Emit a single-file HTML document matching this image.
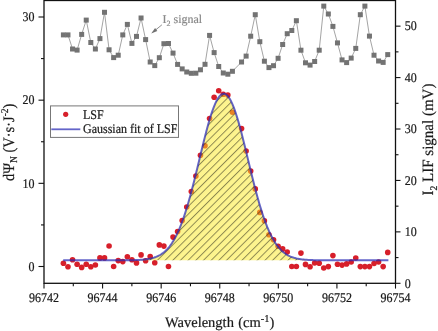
<!DOCTYPE html>
<html><head><meta charset="utf-8"><style>html,body{margin:0;padding:0;background:#fff;}svg{display:block;}text{text-rendering:geometricPrecision;}svg{will-change:transform;}</style></head>
<body>
<svg width="438" height="331" viewBox="0 0 438 331">
<defs><pattern id="hatch" patternUnits="userSpaceOnUse" width="5.43" height="5.43" patternTransform="rotate(45) translate(1.69,0)"><line x1="0.5" y1="-1" x2="0.5" y2="7" stroke="rgba(30,30,20,0.52)" stroke-width="0.95"/></pattern>
<clipPath id="pc"><rect x="44.0" y="0.5" width="351.5" height="282.8"/></clipPath></defs>
<rect width="438" height="331" fill="#fff"/>
<polyline fill="none" stroke="#939393" stroke-width="0.85" points="63.40,34.90 67.97,34.90 72.54,49.00 77.10,50.10 81.67,34.40 86.24,20.10 90.81,42.50 95.38,49.00 99.94,38.60 104.51,12.30 109.08,49.80 113.65,57.60 118.22,55.20 122.78,34.90 127.35,24.40 131.92,43.40 136.49,36.40 141.06,18.00 145.62,39.60 150.19,62.00 154.76,65.60 159.33,57.70 163.90,43.70 168.46,43.50 173.03,53.10 177.60,64.40 182.17,68.90 186.74,72.00 191.30,73.30 195.87,73.20 200.44,69.80 205.01,64.30 209.58,35.40 214.14,52.60 218.71,66.50 223.28,73.00 227.85,74.20 232.42,71.30 241.55,62.00 246.12,56.10 250.69,36.20 255.26,14.70 259.82,41.70 264.39,61.20 268.96,67.60 273.53,65.70 278.10,58.30 282.66,44.50 287.23,33.70 291.80,30.50 296.37,20.70 300.94,50.20 305.50,62.80 310.07,65.10 314.64,61.50 319.21,50.20 323.78,6.10 328.34,14.00 332.91,26.40 337.48,42.90 342.05,59.90 346.62,62.60 351.18,58.10 355.75,48.40 360.32,14.70 364.89,6.10 369.46,36.10 374.02,55.20 378.59,61.00 383.16,62.40 387.73,54.60"/>
<rect x="60.90" y="32.40" width="5" height="5" fill="#737373"/>
<rect x="65.47" y="32.40" width="5" height="5" fill="#737373"/>
<rect x="70.04" y="46.50" width="5" height="5" fill="#737373"/>
<rect x="74.60" y="47.60" width="5" height="5" fill="#737373"/>
<rect x="79.17" y="31.90" width="5" height="5" fill="#737373"/>
<rect x="83.74" y="17.60" width="5" height="5" fill="#737373"/>
<rect x="88.31" y="40.00" width="5" height="5" fill="#737373"/>
<rect x="92.88" y="46.50" width="5" height="5" fill="#737373"/>
<rect x="97.44" y="36.10" width="5" height="5" fill="#737373"/>
<rect x="102.01" y="9.80" width="5" height="5" fill="#737373"/>
<rect x="106.58" y="47.30" width="5" height="5" fill="#737373"/>
<rect x="111.15" y="55.10" width="5" height="5" fill="#737373"/>
<rect x="115.72" y="52.70" width="5" height="5" fill="#737373"/>
<rect x="120.28" y="32.40" width="5" height="5" fill="#737373"/>
<rect x="124.85" y="21.90" width="5" height="5" fill="#737373"/>
<rect x="129.42" y="40.90" width="5" height="5" fill="#737373"/>
<rect x="133.99" y="33.90" width="5" height="5" fill="#737373"/>
<rect x="138.56" y="15.50" width="5" height="5" fill="#737373"/>
<rect x="143.12" y="37.10" width="5" height="5" fill="#737373"/>
<rect x="147.69" y="59.50" width="5" height="5" fill="#737373"/>
<rect x="152.26" y="63.10" width="5" height="5" fill="#737373"/>
<rect x="156.83" y="55.20" width="5" height="5" fill="#737373"/>
<rect x="161.40" y="41.20" width="5" height="5" fill="#737373"/>
<rect x="165.96" y="41.00" width="5" height="5" fill="#737373"/>
<rect x="170.53" y="50.60" width="5" height="5" fill="#737373"/>
<rect x="175.10" y="61.90" width="5" height="5" fill="#737373"/>
<rect x="179.67" y="66.40" width="5" height="5" fill="#737373"/>
<rect x="184.24" y="69.50" width="5" height="5" fill="#737373"/>
<rect x="188.80" y="70.80" width="5" height="5" fill="#737373"/>
<rect x="193.37" y="70.70" width="5" height="5" fill="#737373"/>
<rect x="197.94" y="67.30" width="5" height="5" fill="#737373"/>
<rect x="202.51" y="61.80" width="5" height="5" fill="#737373"/>
<rect x="207.08" y="32.90" width="5" height="5" fill="#737373"/>
<rect x="211.64" y="50.10" width="5" height="5" fill="#737373"/>
<rect x="216.21" y="64.00" width="5" height="5" fill="#737373"/>
<rect x="220.78" y="70.50" width="5" height="5" fill="#737373"/>
<rect x="225.35" y="71.70" width="5" height="5" fill="#737373"/>
<rect x="229.92" y="68.80" width="5" height="5" fill="#737373"/>
<rect x="239.05" y="59.50" width="5" height="5" fill="#737373"/>
<rect x="243.62" y="53.60" width="5" height="5" fill="#737373"/>
<rect x="248.19" y="33.70" width="5" height="5" fill="#737373"/>
<rect x="252.76" y="12.20" width="5" height="5" fill="#737373"/>
<rect x="257.32" y="39.20" width="5" height="5" fill="#737373"/>
<rect x="261.89" y="58.70" width="5" height="5" fill="#737373"/>
<rect x="266.46" y="65.10" width="5" height="5" fill="#737373"/>
<rect x="271.03" y="63.20" width="5" height="5" fill="#737373"/>
<rect x="275.60" y="55.80" width="5" height="5" fill="#737373"/>
<rect x="280.16" y="42.00" width="5" height="5" fill="#737373"/>
<rect x="284.73" y="31.20" width="5" height="5" fill="#737373"/>
<rect x="289.30" y="28.00" width="5" height="5" fill="#737373"/>
<rect x="293.87" y="18.20" width="5" height="5" fill="#737373"/>
<rect x="298.44" y="47.70" width="5" height="5" fill="#737373"/>
<rect x="303.00" y="60.30" width="5" height="5" fill="#737373"/>
<rect x="307.57" y="62.60" width="5" height="5" fill="#737373"/>
<rect x="312.14" y="59.00" width="5" height="5" fill="#737373"/>
<rect x="316.71" y="47.70" width="5" height="5" fill="#737373"/>
<rect x="321.28" y="3.60" width="5" height="5" fill="#737373"/>
<rect x="325.84" y="11.50" width="5" height="5" fill="#737373"/>
<rect x="330.41" y="23.90" width="5" height="5" fill="#737373"/>
<rect x="334.98" y="40.40" width="5" height="5" fill="#737373"/>
<rect x="339.55" y="57.40" width="5" height="5" fill="#737373"/>
<rect x="344.12" y="60.10" width="5" height="5" fill="#737373"/>
<rect x="348.68" y="55.60" width="5" height="5" fill="#737373"/>
<rect x="353.25" y="45.90" width="5" height="5" fill="#737373"/>
<rect x="357.82" y="12.20" width="5" height="5" fill="#737373"/>
<rect x="362.39" y="3.60" width="5" height="5" fill="#737373"/>
<rect x="366.96" y="33.60" width="5" height="5" fill="#737373"/>
<rect x="371.52" y="52.70" width="5" height="5" fill="#737373"/>
<rect x="376.09" y="58.50" width="5" height="5" fill="#737373"/>
<rect x="380.66" y="59.90" width="5" height="5" fill="#737373"/>
<rect x="385.23" y="52.10" width="5" height="5" fill="#737373"/>
<circle cx="63.40" cy="263.20" r="2.8" fill="#d71f2a"/>
<circle cx="67.97" cy="266.70" r="2.8" fill="#d71f2a"/>
<circle cx="72.54" cy="259.70" r="2.8" fill="#d71f2a"/>
<circle cx="77.10" cy="264.30" r="2.8" fill="#d71f2a"/>
<circle cx="81.67" cy="267.40" r="2.8" fill="#d71f2a"/>
<circle cx="86.24" cy="264.30" r="2.8" fill="#d71f2a"/>
<circle cx="90.81" cy="266.70" r="2.8" fill="#d71f2a"/>
<circle cx="95.38" cy="265.00" r="2.8" fill="#d71f2a"/>
<circle cx="99.94" cy="257.90" r="2.8" fill="#d71f2a"/>
<circle cx="104.51" cy="257.90" r="2.8" fill="#d71f2a"/>
<circle cx="109.08" cy="246.00" r="2.8" fill="#d71f2a"/>
<circle cx="113.65" cy="266.50" r="2.8" fill="#d71f2a"/>
<circle cx="118.22" cy="260.60" r="2.8" fill="#d71f2a"/>
<circle cx="122.78" cy="261.60" r="2.8" fill="#d71f2a"/>
<circle cx="127.35" cy="256.80" r="2.8" fill="#d71f2a"/>
<circle cx="131.92" cy="259.80" r="2.8" fill="#d71f2a"/>
<circle cx="136.49" cy="262.90" r="2.8" fill="#d71f2a"/>
<circle cx="141.06" cy="254.90" r="2.8" fill="#d71f2a"/>
<circle cx="145.62" cy="260.70" r="2.8" fill="#d71f2a"/>
<circle cx="150.19" cy="256.60" r="2.8" fill="#d71f2a"/>
<circle cx="154.76" cy="262.70" r="2.8" fill="#d71f2a"/>
<circle cx="159.33" cy="244.90" r="2.8" fill="#d71f2a"/>
<circle cx="163.90" cy="246.10" r="2.8" fill="#d71f2a"/>
<circle cx="168.46" cy="266.50" r="2.8" fill="#d71f2a"/>
<circle cx="173.03" cy="237.10" r="2.8" fill="#d71f2a"/>
<circle cx="177.60" cy="231.60" r="2.8" fill="#d71f2a"/>
<circle cx="182.17" cy="220.60" r="2.8" fill="#d71f2a"/>
<circle cx="186.74" cy="207.00" r="2.8" fill="#d71f2a"/>
<circle cx="191.30" cy="191.50" r="2.8" fill="#d71f2a"/>
<circle cx="195.87" cy="176.10" r="2.8" fill="#d71f2a"/>
<circle cx="200.44" cy="155.30" r="2.8" fill="#d71f2a"/>
<circle cx="205.01" cy="145.70" r="2.8" fill="#d71f2a"/>
<circle cx="209.58" cy="118.50" r="2.8" fill="#d71f2a"/>
<circle cx="214.14" cy="97.30" r="2.8" fill="#d71f2a"/>
<circle cx="218.71" cy="90.70" r="2.8" fill="#d71f2a"/>
<circle cx="223.28" cy="94.30" r="2.8" fill="#d71f2a"/>
<circle cx="227.85" cy="95.10" r="2.8" fill="#d71f2a"/>
<circle cx="232.42" cy="112.20" r="2.8" fill="#d71f2a"/>
<circle cx="241.55" cy="128.60" r="2.8" fill="#d71f2a"/>
<circle cx="246.12" cy="151.00" r="2.8" fill="#d71f2a"/>
<circle cx="250.69" cy="171.10" r="2.8" fill="#d71f2a"/>
<circle cx="255.26" cy="188.90" r="2.8" fill="#d71f2a"/>
<circle cx="259.82" cy="212.40" r="2.8" fill="#d71f2a"/>
<circle cx="264.39" cy="220.80" r="2.8" fill="#d71f2a"/>
<circle cx="268.96" cy="234.70" r="2.8" fill="#d71f2a"/>
<circle cx="273.53" cy="239.80" r="2.8" fill="#d71f2a"/>
<circle cx="278.10" cy="246.30" r="2.8" fill="#d71f2a"/>
<circle cx="282.66" cy="248.90" r="2.8" fill="#d71f2a"/>
<circle cx="287.23" cy="252.00" r="2.8" fill="#d71f2a"/>
<circle cx="291.80" cy="266.50" r="2.8" fill="#d71f2a"/>
<circle cx="296.37" cy="266.50" r="2.8" fill="#d71f2a"/>
<circle cx="300.94" cy="253.10" r="2.8" fill="#d71f2a"/>
<circle cx="305.50" cy="264.40" r="2.8" fill="#d71f2a"/>
<circle cx="310.07" cy="266.70" r="2.8" fill="#d71f2a"/>
<circle cx="314.64" cy="263.00" r="2.8" fill="#d71f2a"/>
<circle cx="319.21" cy="263.20" r="2.8" fill="#d71f2a"/>
<circle cx="323.78" cy="268.00" r="2.8" fill="#d71f2a"/>
<circle cx="328.34" cy="266.60" r="2.8" fill="#d71f2a"/>
<circle cx="332.91" cy="255.60" r="2.8" fill="#d71f2a"/>
<circle cx="337.48" cy="264.20" r="2.8" fill="#d71f2a"/>
<circle cx="342.05" cy="265.10" r="2.8" fill="#d71f2a"/>
<circle cx="346.62" cy="263.90" r="2.8" fill="#d71f2a"/>
<circle cx="351.18" cy="262.00" r="2.8" fill="#d71f2a"/>
<circle cx="355.75" cy="258.00" r="2.8" fill="#d71f2a"/>
<circle cx="360.32" cy="266.60" r="2.8" fill="#d71f2a"/>
<circle cx="364.89" cy="266.60" r="2.8" fill="#d71f2a"/>
<circle cx="369.46" cy="266.60" r="2.8" fill="#d71f2a"/>
<circle cx="374.02" cy="263.50" r="2.8" fill="#d71f2a"/>
<circle cx="378.59" cy="262.00" r="2.8" fill="#d71f2a"/>
<circle cx="383.16" cy="266.60" r="2.8" fill="#d71f2a"/>
<circle cx="387.73" cy="252.40" r="2.8" fill="#d71f2a"/>
<path d="M63.20,260.31 L63.20,260.31 L64.01,260.31 L64.83,260.31 L65.64,260.31 L66.45,260.31 L67.27,260.31 L68.08,260.31 L68.89,260.31 L69.70,260.31 L70.52,260.31 L71.33,260.31 L72.14,260.31 L72.96,260.31 L73.77,260.31 L74.58,260.31 L75.40,260.31 L76.21,260.31 L77.02,260.31 L77.83,260.31 L78.65,260.31 L79.46,260.31 L80.27,260.31 L81.09,260.31 L81.90,260.31 L82.71,260.31 L83.53,260.31 L84.34,260.31 L85.15,260.31 L85.96,260.31 L86.78,260.31 L87.59,260.31 L88.40,260.31 L89.22,260.31 L90.03,260.31 L90.84,260.31 L91.66,260.31 L92.47,260.31 L93.28,260.31 L94.09,260.31 L94.91,260.31 L95.72,260.31 L96.53,260.31 L97.35,260.31 L98.16,260.31 L98.97,260.31 L99.78,260.31 L100.60,260.31 L101.41,260.31 L102.22,260.31 L103.04,260.31 L103.85,260.31 L104.66,260.31 L105.48,260.31 L106.29,260.31 L107.10,260.31 L107.92,260.31 L108.73,260.31 L109.54,260.31 L110.35,260.31 L111.17,260.31 L111.98,260.31 L112.79,260.31 L113.61,260.30 L114.42,260.30 L115.23,260.30 L116.05,260.30 L116.86,260.30 L117.67,260.30 L118.48,260.30 L119.30,260.29 L120.11,260.29 L120.92,260.29 L121.74,260.29 L122.55,260.28 L123.36,260.28 L124.18,260.27 L124.99,260.27 L125.80,260.26 L126.61,260.25 L127.43,260.25 L128.24,260.24 L129.05,260.23 L129.87,260.21 L130.68,260.20 L131.49,260.19 L132.31,260.17 L133.12,260.15 L133.93,260.13 L134.74,260.11 L135.56,260.08 L136.37,260.05 L137.18,260.02 L138.00,259.98 L138.81,259.94 L139.62,259.90 L140.44,259.84 L141.25,259.79 L142.06,259.73 L142.87,259.66 L143.69,259.58 L144.50,259.50 L145.31,259.40 L146.13,259.30 L146.94,259.19 L147.75,259.06 L148.56,258.92 L149.38,258.77 L150.19,258.61 L151.00,258.43 L151.82,258.23 L152.63,258.01 L153.44,257.78 L154.26,257.52 L155.07,257.24 L155.88,256.94 L156.69,256.61 L157.51,256.26 L158.32,255.87 L159.13,255.46 L159.95,255.01 L160.76,254.53 L161.57,254.00 L162.39,253.44 L163.20,252.84 L164.01,252.20 L164.82,251.51 L165.64,250.77 L166.45,249.98 L167.26,249.14 L168.08,248.24 L168.89,247.28 L169.70,246.27 L170.52,245.19 L171.33,244.05 L172.14,242.84 L172.95,241.56 L173.77,240.22 L174.58,238.80 L175.39,237.30 L176.21,235.73 L177.02,234.08 L177.83,232.35 L178.65,230.54 L179.46,228.65 L180.27,226.68 L181.09,224.62 L181.90,222.48 L182.71,220.26 L183.52,217.96 L184.34,215.57 L185.15,213.10 L185.96,210.55 L186.78,207.92 L187.59,205.21 L188.40,202.43 L189.22,199.58 L190.03,196.66 L190.84,193.67 L191.65,190.62 L192.47,187.51 L193.28,184.35 L194.09,181.14 L194.91,177.89 L195.72,174.60 L196.53,171.27 L197.35,167.93 L198.16,164.56 L198.97,161.18 L199.78,157.80 L200.60,154.42 L201.41,151.06 L202.22,147.71 L203.04,144.39 L203.85,141.11 L204.66,137.87 L205.48,134.68 L206.29,131.55 L207.10,128.50 L207.91,125.52 L208.73,122.63 L209.54,119.84 L210.35,117.15 L211.17,114.57 L211.98,112.11 L212.79,109.78 L213.61,107.59 L214.42,105.53 L215.23,103.63 L216.04,101.88 L216.86,100.28 L217.67,98.86 L218.48,97.60 L219.30,96.52 L220.11,95.61 L220.92,94.89 L221.74,94.34 L222.55,93.99 L223.36,93.82 L224.17,93.83 L224.99,94.03 L225.80,94.42 L226.61,94.99 L227.43,95.75 L228.24,96.68 L229.05,97.80 L229.87,99.08 L230.68,100.54 L231.49,102.16 L232.30,103.93 L233.12,105.86 L233.93,107.94 L234.74,110.16 L235.56,112.51 L236.37,114.99 L237.18,117.59 L238.00,120.30 L238.81,123.11 L239.62,126.01 L240.43,129.00 L241.25,132.07 L242.06,135.21 L242.87,138.40 L243.69,141.65 L244.50,144.94 L245.31,148.26 L246.12,151.62 L246.94,154.99 L247.75,158.36 L248.56,161.75 L249.38,165.12 L250.19,168.48 L251.00,171.83 L251.82,175.15 L252.63,178.43 L253.44,181.68 L254.25,184.88 L255.07,188.03 L255.88,191.13 L256.69,194.17 L257.51,197.15 L258.32,200.06 L259.13,202.90 L259.95,205.67 L260.76,208.36 L261.57,210.98 L262.38,213.52 L263.20,215.97 L264.01,218.35 L264.82,220.64 L265.64,222.85 L266.45,224.97 L267.26,227.01 L268.08,228.97 L268.89,230.85 L269.70,232.64 L270.51,234.36 L271.33,236.00 L272.14,237.55 L272.95,239.04 L273.77,240.44 L274.58,241.78 L275.39,243.05 L276.21,244.24 L277.02,245.37 L277.83,246.44 L278.64,247.44 L279.46,248.39 L280.27,249.28 L281.08,250.11 L281.90,250.89 L282.71,251.62 L283.52,252.31 L284.34,252.95 L285.15,253.54 L285.96,254.09 L286.77,254.61 L287.59,255.09 L288.40,255.53 L289.21,255.94 L290.03,256.32 L290.84,256.67 L291.65,256.99 L292.47,257.29 L293.28,257.57 L294.09,257.82 L294.91,258.05 L295.72,258.26 L296.53,258.46 L297.34,258.64 L298.16,258.80 L298.97,258.95 L299.78,259.08 L300.60,259.20 L301.41,259.32 L302.22,259.42 L303.04,259.51 L303.85,259.59 L304.66,259.67 L305.47,259.74 L306.29,259.80 L307.10,259.85 L307.91,259.90 L308.73,259.95 L309.54,259.99 L310.35,260.02 L311.17,260.06 L311.98,260.09 L312.79,260.11 L313.60,260.13 L314.42,260.16 L315.23,260.17 L316.04,260.19 L316.86,260.20 L317.67,260.22 L318.48,260.23 L319.30,260.24 L320.11,260.25 L320.92,260.26 L321.73,260.26 L322.55,260.27 L323.36,260.27 L324.17,260.28 L324.99,260.28 L325.80,260.29 L326.61,260.29 L327.43,260.29 L328.24,260.29 L329.05,260.30 L329.86,260.30 L330.68,260.30 L331.49,260.30 L332.30,260.30 L333.12,260.30 L333.93,260.30 L334.74,260.31 L335.56,260.31 L336.37,260.31 L337.18,260.31 L337.99,260.31 L338.81,260.31 L339.62,260.31 L340.43,260.31 L341.25,260.31 L342.06,260.31 L342.87,260.31 L343.69,260.31 L344.50,260.31 L345.31,260.31 L346.12,260.31 L346.94,260.31 L347.75,260.31 L348.56,260.31 L349.38,260.31 L350.19,260.31 L351.00,260.31 L351.81,260.31 L352.63,260.31 L353.44,260.31 L354.25,260.31 L355.07,260.31 L355.88,260.31 L356.69,260.31 L357.51,260.31 L358.32,260.31 L359.13,260.31 L359.94,260.31 L360.76,260.31 L361.57,260.31 L362.38,260.31 L363.20,260.31 L364.01,260.31 L364.82,260.31 L365.64,260.31 L366.45,260.31 L367.26,260.31 L368.07,260.31 L368.89,260.31 L369.70,260.31 L370.51,260.31 L371.33,260.31 L372.14,260.31 L372.95,260.31 L373.77,260.31 L374.58,260.31 L375.39,260.31 L376.20,260.31 L377.02,260.31 L377.83,260.31 L378.64,260.31 L379.46,260.31 L380.27,260.31 L381.08,260.31 L381.90,260.31 L382.71,260.31 L383.52,260.31 L384.33,260.31 L385.15,260.31 L385.96,260.31 L386.77,260.31 L387.59,260.31 L388.40,260.31 L388.40,260.31 Z" fill="rgba(252,234,30,0.5)" stroke="none"/>
<path d="M63.20,260.31 L63.20,260.31 L64.01,260.31 L64.83,260.31 L65.64,260.31 L66.45,260.31 L67.27,260.31 L68.08,260.31 L68.89,260.31 L69.70,260.31 L70.52,260.31 L71.33,260.31 L72.14,260.31 L72.96,260.31 L73.77,260.31 L74.58,260.31 L75.40,260.31 L76.21,260.31 L77.02,260.31 L77.83,260.31 L78.65,260.31 L79.46,260.31 L80.27,260.31 L81.09,260.31 L81.90,260.31 L82.71,260.31 L83.53,260.31 L84.34,260.31 L85.15,260.31 L85.96,260.31 L86.78,260.31 L87.59,260.31 L88.40,260.31 L89.22,260.31 L90.03,260.31 L90.84,260.31 L91.66,260.31 L92.47,260.31 L93.28,260.31 L94.09,260.31 L94.91,260.31 L95.72,260.31 L96.53,260.31 L97.35,260.31 L98.16,260.31 L98.97,260.31 L99.78,260.31 L100.60,260.31 L101.41,260.31 L102.22,260.31 L103.04,260.31 L103.85,260.31 L104.66,260.31 L105.48,260.31 L106.29,260.31 L107.10,260.31 L107.92,260.31 L108.73,260.31 L109.54,260.31 L110.35,260.31 L111.17,260.31 L111.98,260.31 L112.79,260.31 L113.61,260.30 L114.42,260.30 L115.23,260.30 L116.05,260.30 L116.86,260.30 L117.67,260.30 L118.48,260.30 L119.30,260.29 L120.11,260.29 L120.92,260.29 L121.74,260.29 L122.55,260.28 L123.36,260.28 L124.18,260.27 L124.99,260.27 L125.80,260.26 L126.61,260.25 L127.43,260.25 L128.24,260.24 L129.05,260.23 L129.87,260.21 L130.68,260.20 L131.49,260.19 L132.31,260.17 L133.12,260.15 L133.93,260.13 L134.74,260.11 L135.56,260.08 L136.37,260.05 L137.18,260.02 L138.00,259.98 L138.81,259.94 L139.62,259.90 L140.44,259.84 L141.25,259.79 L142.06,259.73 L142.87,259.66 L143.69,259.58 L144.50,259.50 L145.31,259.40 L146.13,259.30 L146.94,259.19 L147.75,259.06 L148.56,258.92 L149.38,258.77 L150.19,258.61 L151.00,258.43 L151.82,258.23 L152.63,258.01 L153.44,257.78 L154.26,257.52 L155.07,257.24 L155.88,256.94 L156.69,256.61 L157.51,256.26 L158.32,255.87 L159.13,255.46 L159.95,255.01 L160.76,254.53 L161.57,254.00 L162.39,253.44 L163.20,252.84 L164.01,252.20 L164.82,251.51 L165.64,250.77 L166.45,249.98 L167.26,249.14 L168.08,248.24 L168.89,247.28 L169.70,246.27 L170.52,245.19 L171.33,244.05 L172.14,242.84 L172.95,241.56 L173.77,240.22 L174.58,238.80 L175.39,237.30 L176.21,235.73 L177.02,234.08 L177.83,232.35 L178.65,230.54 L179.46,228.65 L180.27,226.68 L181.09,224.62 L181.90,222.48 L182.71,220.26 L183.52,217.96 L184.34,215.57 L185.15,213.10 L185.96,210.55 L186.78,207.92 L187.59,205.21 L188.40,202.43 L189.22,199.58 L190.03,196.66 L190.84,193.67 L191.65,190.62 L192.47,187.51 L193.28,184.35 L194.09,181.14 L194.91,177.89 L195.72,174.60 L196.53,171.27 L197.35,167.93 L198.16,164.56 L198.97,161.18 L199.78,157.80 L200.60,154.42 L201.41,151.06 L202.22,147.71 L203.04,144.39 L203.85,141.11 L204.66,137.87 L205.48,134.68 L206.29,131.55 L207.10,128.50 L207.91,125.52 L208.73,122.63 L209.54,119.84 L210.35,117.15 L211.17,114.57 L211.98,112.11 L212.79,109.78 L213.61,107.59 L214.42,105.53 L215.23,103.63 L216.04,101.88 L216.86,100.28 L217.67,98.86 L218.48,97.60 L219.30,96.52 L220.11,95.61 L220.92,94.89 L221.74,94.34 L222.55,93.99 L223.36,93.82 L224.17,93.83 L224.99,94.03 L225.80,94.42 L226.61,94.99 L227.43,95.75 L228.24,96.68 L229.05,97.80 L229.87,99.08 L230.68,100.54 L231.49,102.16 L232.30,103.93 L233.12,105.86 L233.93,107.94 L234.74,110.16 L235.56,112.51 L236.37,114.99 L237.18,117.59 L238.00,120.30 L238.81,123.11 L239.62,126.01 L240.43,129.00 L241.25,132.07 L242.06,135.21 L242.87,138.40 L243.69,141.65 L244.50,144.94 L245.31,148.26 L246.12,151.62 L246.94,154.99 L247.75,158.36 L248.56,161.75 L249.38,165.12 L250.19,168.48 L251.00,171.83 L251.82,175.15 L252.63,178.43 L253.44,181.68 L254.25,184.88 L255.07,188.03 L255.88,191.13 L256.69,194.17 L257.51,197.15 L258.32,200.06 L259.13,202.90 L259.95,205.67 L260.76,208.36 L261.57,210.98 L262.38,213.52 L263.20,215.97 L264.01,218.35 L264.82,220.64 L265.64,222.85 L266.45,224.97 L267.26,227.01 L268.08,228.97 L268.89,230.85 L269.70,232.64 L270.51,234.36 L271.33,236.00 L272.14,237.55 L272.95,239.04 L273.77,240.44 L274.58,241.78 L275.39,243.05 L276.21,244.24 L277.02,245.37 L277.83,246.44 L278.64,247.44 L279.46,248.39 L280.27,249.28 L281.08,250.11 L281.90,250.89 L282.71,251.62 L283.52,252.31 L284.34,252.95 L285.15,253.54 L285.96,254.09 L286.77,254.61 L287.59,255.09 L288.40,255.53 L289.21,255.94 L290.03,256.32 L290.84,256.67 L291.65,256.99 L292.47,257.29 L293.28,257.57 L294.09,257.82 L294.91,258.05 L295.72,258.26 L296.53,258.46 L297.34,258.64 L298.16,258.80 L298.97,258.95 L299.78,259.08 L300.60,259.20 L301.41,259.32 L302.22,259.42 L303.04,259.51 L303.85,259.59 L304.66,259.67 L305.47,259.74 L306.29,259.80 L307.10,259.85 L307.91,259.90 L308.73,259.95 L309.54,259.99 L310.35,260.02 L311.17,260.06 L311.98,260.09 L312.79,260.11 L313.60,260.13 L314.42,260.16 L315.23,260.17 L316.04,260.19 L316.86,260.20 L317.67,260.22 L318.48,260.23 L319.30,260.24 L320.11,260.25 L320.92,260.26 L321.73,260.26 L322.55,260.27 L323.36,260.27 L324.17,260.28 L324.99,260.28 L325.80,260.29 L326.61,260.29 L327.43,260.29 L328.24,260.29 L329.05,260.30 L329.86,260.30 L330.68,260.30 L331.49,260.30 L332.30,260.30 L333.12,260.30 L333.93,260.30 L334.74,260.31 L335.56,260.31 L336.37,260.31 L337.18,260.31 L337.99,260.31 L338.81,260.31 L339.62,260.31 L340.43,260.31 L341.25,260.31 L342.06,260.31 L342.87,260.31 L343.69,260.31 L344.50,260.31 L345.31,260.31 L346.12,260.31 L346.94,260.31 L347.75,260.31 L348.56,260.31 L349.38,260.31 L350.19,260.31 L351.00,260.31 L351.81,260.31 L352.63,260.31 L353.44,260.31 L354.25,260.31 L355.07,260.31 L355.88,260.31 L356.69,260.31 L357.51,260.31 L358.32,260.31 L359.13,260.31 L359.94,260.31 L360.76,260.31 L361.57,260.31 L362.38,260.31 L363.20,260.31 L364.01,260.31 L364.82,260.31 L365.64,260.31 L366.45,260.31 L367.26,260.31 L368.07,260.31 L368.89,260.31 L369.70,260.31 L370.51,260.31 L371.33,260.31 L372.14,260.31 L372.95,260.31 L373.77,260.31 L374.58,260.31 L375.39,260.31 L376.20,260.31 L377.02,260.31 L377.83,260.31 L378.64,260.31 L379.46,260.31 L380.27,260.31 L381.08,260.31 L381.90,260.31 L382.71,260.31 L383.52,260.31 L384.33,260.31 L385.15,260.31 L385.96,260.31 L386.77,260.31 L387.59,260.31 L388.40,260.31 L388.40,260.31 Z" fill="url(#hatch)" stroke="none"/>
<polyline fill="none" stroke="rgba(40,42,180,0.72)" stroke-width="2" stroke-linejoin="round" points="63.20,260.31 64.01,260.31 64.83,260.31 65.64,260.31 66.45,260.31 67.27,260.31 68.08,260.31 68.89,260.31 69.70,260.31 70.52,260.31 71.33,260.31 72.14,260.31 72.96,260.31 73.77,260.31 74.58,260.31 75.40,260.31 76.21,260.31 77.02,260.31 77.83,260.31 78.65,260.31 79.46,260.31 80.27,260.31 81.09,260.31 81.90,260.31 82.71,260.31 83.53,260.31 84.34,260.31 85.15,260.31 85.96,260.31 86.78,260.31 87.59,260.31 88.40,260.31 89.22,260.31 90.03,260.31 90.84,260.31 91.66,260.31 92.47,260.31 93.28,260.31 94.09,260.31 94.91,260.31 95.72,260.31 96.53,260.31 97.35,260.31 98.16,260.31 98.97,260.31 99.78,260.31 100.60,260.31 101.41,260.31 102.22,260.31 103.04,260.31 103.85,260.31 104.66,260.31 105.48,260.31 106.29,260.31 107.10,260.31 107.92,260.31 108.73,260.31 109.54,260.31 110.35,260.31 111.17,260.31 111.98,260.31 112.79,260.31 113.61,260.30 114.42,260.30 115.23,260.30 116.05,260.30 116.86,260.30 117.67,260.30 118.48,260.30 119.30,260.29 120.11,260.29 120.92,260.29 121.74,260.29 122.55,260.28 123.36,260.28 124.18,260.27 124.99,260.27 125.80,260.26 126.61,260.25 127.43,260.25 128.24,260.24 129.05,260.23 129.87,260.21 130.68,260.20 131.49,260.19 132.31,260.17 133.12,260.15 133.93,260.13 134.74,260.11 135.56,260.08 136.37,260.05 137.18,260.02 138.00,259.98 138.81,259.94 139.62,259.90 140.44,259.84 141.25,259.79 142.06,259.73 142.87,259.66 143.69,259.58 144.50,259.50 145.31,259.40 146.13,259.30 146.94,259.19 147.75,259.06 148.56,258.92 149.38,258.77 150.19,258.61 151.00,258.43 151.82,258.23 152.63,258.01 153.44,257.78 154.26,257.52 155.07,257.24 155.88,256.94 156.69,256.61 157.51,256.26 158.32,255.87 159.13,255.46 159.95,255.01 160.76,254.53 161.57,254.00 162.39,253.44 163.20,252.84 164.01,252.20 164.82,251.51 165.64,250.77 166.45,249.98 167.26,249.14 168.08,248.24 168.89,247.28 169.70,246.27 170.52,245.19 171.33,244.05 172.14,242.84 172.95,241.56 173.77,240.22 174.58,238.80 175.39,237.30 176.21,235.73 177.02,234.08 177.83,232.35 178.65,230.54 179.46,228.65 180.27,226.68 181.09,224.62 181.90,222.48 182.71,220.26 183.52,217.96 184.34,215.57 185.15,213.10 185.96,210.55 186.78,207.92 187.59,205.21 188.40,202.43 189.22,199.58 190.03,196.66 190.84,193.67 191.65,190.62 192.47,187.51 193.28,184.35 194.09,181.14 194.91,177.89 195.72,174.60 196.53,171.27 197.35,167.93 198.16,164.56 198.97,161.18 199.78,157.80 200.60,154.42 201.41,151.06 202.22,147.71 203.04,144.39 203.85,141.11 204.66,137.87 205.48,134.68 206.29,131.55 207.10,128.50 207.91,125.52 208.73,122.63 209.54,119.84 210.35,117.15 211.17,114.57 211.98,112.11 212.79,109.78 213.61,107.59 214.42,105.53 215.23,103.63 216.04,101.88 216.86,100.28 217.67,98.86 218.48,97.60 219.30,96.52 220.11,95.61 220.92,94.89 221.74,94.34 222.55,93.99 223.36,93.82 224.17,93.83 224.99,94.03 225.80,94.42 226.61,94.99 227.43,95.75 228.24,96.68 229.05,97.80 229.87,99.08 230.68,100.54 231.49,102.16 232.30,103.93 233.12,105.86 233.93,107.94 234.74,110.16 235.56,112.51 236.37,114.99 237.18,117.59 238.00,120.30 238.81,123.11 239.62,126.01 240.43,129.00 241.25,132.07 242.06,135.21 242.87,138.40 243.69,141.65 244.50,144.94 245.31,148.26 246.12,151.62 246.94,154.99 247.75,158.36 248.56,161.75 249.38,165.12 250.19,168.48 251.00,171.83 251.82,175.15 252.63,178.43 253.44,181.68 254.25,184.88 255.07,188.03 255.88,191.13 256.69,194.17 257.51,197.15 258.32,200.06 259.13,202.90 259.95,205.67 260.76,208.36 261.57,210.98 262.38,213.52 263.20,215.97 264.01,218.35 264.82,220.64 265.64,222.85 266.45,224.97 267.26,227.01 268.08,228.97 268.89,230.85 269.70,232.64 270.51,234.36 271.33,236.00 272.14,237.55 272.95,239.04 273.77,240.44 274.58,241.78 275.39,243.05 276.21,244.24 277.02,245.37 277.83,246.44 278.64,247.44 279.46,248.39 280.27,249.28 281.08,250.11 281.90,250.89 282.71,251.62 283.52,252.31 284.34,252.95 285.15,253.54 285.96,254.09 286.77,254.61 287.59,255.09 288.40,255.53 289.21,255.94 290.03,256.32 290.84,256.67 291.65,256.99 292.47,257.29 293.28,257.57 294.09,257.82 294.91,258.05 295.72,258.26 296.53,258.46 297.34,258.64 298.16,258.80 298.97,258.95 299.78,259.08 300.60,259.20 301.41,259.32 302.22,259.42 303.04,259.51 303.85,259.59 304.66,259.67 305.47,259.74 306.29,259.80 307.10,259.85 307.91,259.90 308.73,259.95 309.54,259.99 310.35,260.02 311.17,260.06 311.98,260.09 312.79,260.11 313.60,260.13 314.42,260.16 315.23,260.17 316.04,260.19 316.86,260.20 317.67,260.22 318.48,260.23 319.30,260.24 320.11,260.25 320.92,260.26 321.73,260.26 322.55,260.27 323.36,260.27 324.17,260.28 324.99,260.28 325.80,260.29 326.61,260.29 327.43,260.29 328.24,260.29 329.05,260.30 329.86,260.30 330.68,260.30 331.49,260.30 332.30,260.30 333.12,260.30 333.93,260.30 334.74,260.31 335.56,260.31 336.37,260.31 337.18,260.31 337.99,260.31 338.81,260.31 339.62,260.31 340.43,260.31 341.25,260.31 342.06,260.31 342.87,260.31 343.69,260.31 344.50,260.31 345.31,260.31 346.12,260.31 346.94,260.31 347.75,260.31 348.56,260.31 349.38,260.31 350.19,260.31 351.00,260.31 351.81,260.31 352.63,260.31 353.44,260.31 354.25,260.31 355.07,260.31 355.88,260.31 356.69,260.31 357.51,260.31 358.32,260.31 359.13,260.31 359.94,260.31 360.76,260.31 361.57,260.31 362.38,260.31 363.20,260.31 364.01,260.31 364.82,260.31 365.64,260.31 366.45,260.31 367.26,260.31 368.07,260.31 368.89,260.31 369.70,260.31 370.51,260.31 371.33,260.31 372.14,260.31 372.95,260.31 373.77,260.31 374.58,260.31 375.39,260.31 376.20,260.31 377.02,260.31 377.83,260.31 378.64,260.31 379.46,260.31 380.27,260.31 381.08,260.31 381.90,260.31 382.71,260.31 383.52,260.31 384.33,260.31 385.15,260.31 385.96,260.31 386.77,260.31 387.59,260.31 388.40,260.31"/>
<rect x="44.0" y="0.5" width="351.5" height="282.8" fill="none" stroke="#111" stroke-width="1.3"/>
<line x1="44.00" y1="283.3" x2="44.00" y2="288.6" stroke="#111" stroke-width="1.1"/>
<text transform="translate(44.00,302.00) scale(1,1.1)" text-anchor="middle" font-size="12" font-family="Liberation Serif, serif" fill="#1a1a1a" stroke="#1a1a1a" stroke-width="0.2" >96742</text>
<line x1="73.29" y1="283.3" x2="73.29" y2="286.3" stroke="#111" stroke-width="1.1"/>
<line x1="102.58" y1="283.3" x2="102.58" y2="288.6" stroke="#111" stroke-width="1.1"/>
<text transform="translate(102.58,302.00) scale(1,1.1)" text-anchor="middle" font-size="12" font-family="Liberation Serif, serif" fill="#1a1a1a" stroke="#1a1a1a" stroke-width="0.2" >96744</text>
<line x1="131.88" y1="283.3" x2="131.88" y2="286.3" stroke="#111" stroke-width="1.1"/>
<line x1="161.17" y1="283.3" x2="161.17" y2="288.6" stroke="#111" stroke-width="1.1"/>
<text transform="translate(161.17,302.00) scale(1,1.1)" text-anchor="middle" font-size="12" font-family="Liberation Serif, serif" fill="#1a1a1a" stroke="#1a1a1a" stroke-width="0.2" >96746</text>
<line x1="190.46" y1="283.3" x2="190.46" y2="286.3" stroke="#111" stroke-width="1.1"/>
<line x1="219.75" y1="283.3" x2="219.75" y2="288.6" stroke="#111" stroke-width="1.1"/>
<text transform="translate(219.75,302.00) scale(1,1.1)" text-anchor="middle" font-size="12" font-family="Liberation Serif, serif" fill="#1a1a1a" stroke="#1a1a1a" stroke-width="0.2" >96748</text>
<line x1="249.04" y1="283.3" x2="249.04" y2="286.3" stroke="#111" stroke-width="1.1"/>
<line x1="278.33" y1="283.3" x2="278.33" y2="288.6" stroke="#111" stroke-width="1.1"/>
<text transform="translate(278.33,302.00) scale(1,1.1)" text-anchor="middle" font-size="12" font-family="Liberation Serif, serif" fill="#1a1a1a" stroke="#1a1a1a" stroke-width="0.2" >96750</text>
<line x1="307.62" y1="283.3" x2="307.62" y2="286.3" stroke="#111" stroke-width="1.1"/>
<line x1="336.92" y1="283.3" x2="336.92" y2="288.6" stroke="#111" stroke-width="1.1"/>
<text transform="translate(336.92,302.00) scale(1,1.1)" text-anchor="middle" font-size="12" font-family="Liberation Serif, serif" fill="#1a1a1a" stroke="#1a1a1a" stroke-width="0.2" >96752</text>
<line x1="366.21" y1="283.3" x2="366.21" y2="286.3" stroke="#111" stroke-width="1.1"/>
<line x1="395.50" y1="283.3" x2="395.50" y2="288.6" stroke="#111" stroke-width="1.1"/>
<text transform="translate(395.50,302.00) scale(1,1.1)" text-anchor="middle" font-size="12" font-family="Liberation Serif, serif" fill="#1a1a1a" stroke="#1a1a1a" stroke-width="0.2" >96754</text>
<line x1="38.5" y1="266.50" x2="44.0" y2="266.50" stroke="#111" stroke-width="1.1"/>
<text transform="translate(34.40,270.80) scale(1,1.1)" text-anchor="end" font-size="12" font-family="Liberation Serif, serif" fill="#1a1a1a" stroke="#1a1a1a" stroke-width="0.2" >0</text>
<line x1="41.0" y1="224.92" x2="44.0" y2="224.92" stroke="#111" stroke-width="1.1"/>
<line x1="38.5" y1="183.33" x2="44.0" y2="183.33" stroke="#111" stroke-width="1.1"/>
<text transform="translate(34.40,187.63) scale(1,1.1)" text-anchor="end" font-size="12" font-family="Liberation Serif, serif" fill="#1a1a1a" stroke="#1a1a1a" stroke-width="0.2" >10</text>
<line x1="41.0" y1="141.75" x2="44.0" y2="141.75" stroke="#111" stroke-width="1.1"/>
<line x1="38.5" y1="100.17" x2="44.0" y2="100.17" stroke="#111" stroke-width="1.1"/>
<text transform="translate(34.40,104.47) scale(1,1.1)" text-anchor="end" font-size="12" font-family="Liberation Serif, serif" fill="#1a1a1a" stroke="#1a1a1a" stroke-width="0.2" >20</text>
<line x1="41.0" y1="58.58" x2="44.0" y2="58.58" stroke="#111" stroke-width="1.1"/>
<line x1="38.5" y1="17.00" x2="44.0" y2="17.00" stroke="#111" stroke-width="1.1"/>
<text transform="translate(34.40,21.30) scale(1,1.1)" text-anchor="end" font-size="12" font-family="Liberation Serif, serif" fill="#1a1a1a" stroke="#1a1a1a" stroke-width="0.2" >30</text>
<line x1="395.5" y1="283.30" x2="400.5" y2="283.30" stroke="#111" stroke-width="1.1"/>
<text transform="translate(404.80,287.50) scale(1,1.1)" text-anchor="start" font-size="12" font-family="Liberation Serif, serif" fill="#1a1a1a" stroke="#1a1a1a" stroke-width="0.2" >0</text>
<line x1="395.5" y1="257.59" x2="398.5" y2="257.59" stroke="#111" stroke-width="1.1"/>
<line x1="395.5" y1="231.87" x2="400.5" y2="231.87" stroke="#111" stroke-width="1.1"/>
<text transform="translate(404.80,236.07) scale(1,1.1)" text-anchor="start" font-size="12" font-family="Liberation Serif, serif" fill="#1a1a1a" stroke="#1a1a1a" stroke-width="0.2" >10</text>
<line x1="395.5" y1="206.16" x2="398.5" y2="206.16" stroke="#111" stroke-width="1.1"/>
<line x1="395.5" y1="180.44" x2="400.5" y2="180.44" stroke="#111" stroke-width="1.1"/>
<text transform="translate(404.80,184.64) scale(1,1.1)" text-anchor="start" font-size="12" font-family="Liberation Serif, serif" fill="#1a1a1a" stroke="#1a1a1a" stroke-width="0.2" >20</text>
<line x1="395.5" y1="154.73" x2="398.5" y2="154.73" stroke="#111" stroke-width="1.1"/>
<line x1="395.5" y1="129.01" x2="400.5" y2="129.01" stroke="#111" stroke-width="1.1"/>
<text transform="translate(404.80,133.21) scale(1,1.1)" text-anchor="start" font-size="12" font-family="Liberation Serif, serif" fill="#1a1a1a" stroke="#1a1a1a" stroke-width="0.2" >30</text>
<line x1="395.5" y1="103.30" x2="398.5" y2="103.30" stroke="#111" stroke-width="1.1"/>
<line x1="395.5" y1="77.58" x2="400.5" y2="77.58" stroke="#111" stroke-width="1.1"/>
<text transform="translate(404.80,81.78) scale(1,1.1)" text-anchor="start" font-size="12" font-family="Liberation Serif, serif" fill="#1a1a1a" stroke="#1a1a1a" stroke-width="0.2" >40</text>
<line x1="395.5" y1="51.87" x2="398.5" y2="51.87" stroke="#111" stroke-width="1.1"/>
<line x1="395.5" y1="26.15" x2="400.5" y2="26.15" stroke="#111" stroke-width="1.1"/>
<text transform="translate(404.80,30.35) scale(1,1.1)" text-anchor="start" font-size="12" font-family="Liberation Serif, serif" fill="#1a1a1a" stroke="#1a1a1a" stroke-width="0.2" >50</text>
<text transform="translate(165.00,326.80)" text-anchor="start" font-size="14.5" font-family="Liberation Serif, serif" fill="#1a1a1a" stroke="#1a1a1a" stroke-width="0.2" word-spacing="0.7">Wavelength (cm<tspan dy="-5" font-size="10.5">-1</tspan><tspan dy="5">)</tspan></text>
<text transform="translate(14.30,181.00) rotate(-90) scale(1,1.1)" text-anchor="start" font-size="14.5" font-family="Liberation Serif, serif" fill="#1a1a1a" stroke="#1a1a1a" stroke-width="0.2" >dΨ<tspan dy="2.6" font-size="9.5">N</tspan><tspan dy="-2.6"> (V·s·J</tspan><tspan dy="-5.5" font-size="9.5">-2</tspan><tspan dy="5.5">)</tspan></text>
<text transform="translate(432.90,195.60) rotate(-90) scale(1,1.05)" text-anchor="start" font-size="15" font-family="Liberation Serif, serif" fill="#1a1a1a" stroke="#1a1a1a" stroke-width="0.2" >I<tspan dy="4.3" font-size="9.8">2</tspan><tspan dy="-4.3"> LIF signal (mV)</tspan></text>
<rect x="50.5" y="105.9" width="128" height="31.5" fill="#fff" stroke="#777" stroke-width="1"/>
<circle cx="65.7" cy="114.3" r="2.6" fill="#d71f2a"/>
<text transform="translate(83.00,118.60) scale(1,1.1)" text-anchor="start" font-size="12" font-family="Liberation Serif, serif" fill="#1a1a1a" stroke="#1a1a1a" stroke-width="0.2" >LSF</text>
<line x1="51.3" y1="129.3" x2="80.3" y2="129.3" stroke="rgba(40,42,180,0.72)" stroke-width="1.8"/>
<text transform="translate(83.00,133.00) scale(1,1.1)" text-anchor="start" font-size="12" font-family="Liberation Serif, serif" fill="#1a1a1a" stroke="#1a1a1a" stroke-width="0.2" >Gaussian fit of LSF</text>
<text transform="translate(162.50,22.60)" text-anchor="start" font-size="12" font-family="Liberation Serif, serif" fill="#8a8a8a" stroke="#8a8a8a" stroke-width="0.2" >I<tspan dy="3" font-size="8">2</tspan><tspan dy="-3"> signal</tspan></text>
<line x1="161.9" y1="24.8" x2="155.8" y2="29.8" stroke="#808080" stroke-width="0.9"/>
<polygon points="151.2,33.6 157.3,30.9 155.1,28.1" fill="#707070"/>
</svg>
</body></html>
